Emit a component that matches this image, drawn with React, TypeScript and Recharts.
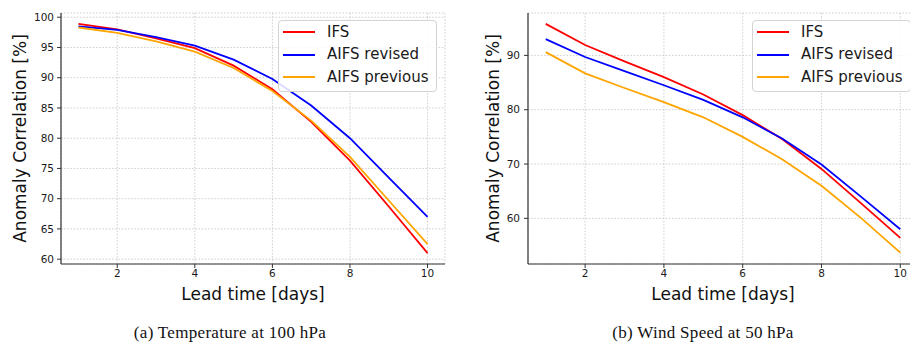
import React from 'react';
import { LineChart, Line, XAxis, YAxis, CartesianGrid, Legend } from 'recharts';

// Lead times (days) shared by both panels
const leadDays = [1, 2, 3, 4, 5, 6, 7, 8, 9, 10];
const dayTicks = [2, 4, 6, 8, 10];

// (a) Temperature at 100 hPa — anomaly correlation [%]
const tempIfs = [98.9, 98.0, 96.5, 94.9, 92.0, 88.1, 82.7, 76.3, 68.7, 61.0];
const tempRevised = [98.5, 97.9, 96.7, 95.3, 93.0, 89.8, 85.4, 80.0, 73.5, 67.0];
const tempPrevious = [98.3, 97.4, 96.0, 94.3, 91.6, 87.8, 82.9, 76.9, 69.7, 62.5];
const tempTicks = [60, 65, 70, 75, 80, 85, 90, 95, 100];

// (b) Wind speed at 50 hPa — anomaly correlation [%]
const windIfs = [95.8, 91.9, 88.9, 86.0, 82.8, 79.0, 74.6, 69.1, 62.8, 56.4];
const windRevised = [93.0, 89.7, 87.1, 84.5, 81.8, 78.6, 74.7, 69.9, 64.0, 58.0];
const windPrevious = [90.6, 86.7, 84.0, 81.4, 78.6, 75.0, 70.9, 66.0, 60.1, 53.7];
const windTicks = [60, 70, 80, 90];

const seriesKeys = ['ifs', 'revised', 'previous'];
const seriesNames = ['IFS', 'AIFS revised', 'AIFS previous'];
const seriesColors = ['#ff0000', '#0000ff', '#ffa500'];

const SANS = '"DejaVu Sans", Verdana, sans-serif';
const SERIF = '"Liberation Serif", "Times New Roman", serif';
const AXIS = '#333333';

const buildRows = (a: number[], b: number[], c: number[]) =>
  leadDays.map((day, i) => ({ day, ifs: a[i], revised: b[i], previous: c[i] }));

const tempRows = buildRows(tempIfs, tempRevised, tempPrevious);
const windRows = buildRows(windIfs, windRevised, windPrevious);

// Legend entries keep the plotting order of the series
const LegendBox = ({ payload }: any) => {
  const items = [...(payload || [])].sort(
    (a: any, b: any) => seriesNames.indexOf(a.value) - seriesNames.indexOf(b.value)
  );
  return (
    <div
      style={{
        width: 159,
        height: 72,
        boxSizing: 'border-box',
        border: '1px solid #d3d3d3',
        borderRadius: 4,
        background: 'rgba(255,255,255,0.85)',
        fontFamily: SANS,
        fontSize: 15,
        color: '#1a1a1a',
      }}
    >
      {items.map((item: any) => (
        <div key={item.value} style={{ display: 'flex', alignItems: 'center', height: 22.5 }}>
          <div style={{ marginLeft: 4, width: 32, height: 2, background: item.color }} />
          <span style={{ marginLeft: 12, lineHeight: '15px' }}>{item.value}</span>
        </div>
      ))}
    </div>
  );
};

type PanelProps = {
  left: number;
  width: number;
  rows: any[];
  yDomain: [number, number];
  yTicks: number[];
  marginLeft: number;
  marginRight: number;
  legendLeft: number;
  yTitleX: number;
  xTitleX: number;
  yTickMargin: number;
};

const Panel = (p: PanelProps) => (
  <div style={{ position: 'absolute', left: p.left, top: 0, width: p.width, height: 344 }}>
    <LineChart
      width={p.width}
      height={344}
      data={p.rows}
      margin={{ top: 13, right: p.marginRight, bottom: 50, left: p.marginLeft }}
    >
      <CartesianGrid stroke="#c4c4c4" strokeWidth={0.8} strokeDasharray="1.6 1.6" />
      <XAxis
        dataKey="day"
        type="number"
        domain={[0.55, 10.45]}
        ticks={dayTicks}
        allowDataOverflow
        height={30}
        tickSize={4}
        tickMargin={2}
        stroke={AXIS}
        axisLine={{ stroke: AXIS, strokeWidth: 1.2 }}
        tickLine={{ stroke: AXIS }}
        tick={{ fill: '#1a1a1a', fontSize: 10.5, fontFamily: SANS }}
      />
      <XAxis
        xAxisId="frameTop"
        orientation="top"
        dataKey="day"
        type="number"
        domain={[0.55, 10.45]}
        height={0}
        tick={false}
        tickLine={false}
        axisLine={{ stroke: AXIS, strokeWidth: 1.2 }}
      />
      <YAxis
        type="number"
        domain={p.yDomain}
        ticks={p.yTicks}
        allowDataOverflow
        width={50}
        tickSize={4}
        tickMargin={p.yTickMargin}
        axisLine={{ stroke: AXIS, strokeWidth: 1.2 }}
        tickLine={{ stroke: AXIS }}
        tick={{ fill: '#1a1a1a', fontSize: 10.5, fontFamily: SANS }}
      />
      <YAxis
        yAxisId="frameRight"
        orientation="right"
        type="number"
        domain={p.yDomain}
        width={0}
        tick={false}
        tickLine={false}
        axisLine={{ stroke: AXIS, strokeWidth: 1.2 }}
      />
      {seriesKeys.map((k, i) => (
        <Line
          key={k}
          dataKey={k}
          name={seriesNames[i]}
          type="linear"
          stroke={seriesColors[i]}
          strokeWidth={1.8}
          dot={false}
          activeDot={false}
          isAnimationActive={false}
        />
      ))}
      <Legend
        layout="vertical"
        align="center"
        verticalAlign="middle"
        itemSorter={null as any}
        wrapperStyle={{ top: 20, left: p.legendLeft, width: 159 }}
        content={<LegendBox />}
      />
    </LineChart>
    <svg
      width={p.width}
      height={344}
      style={{ position: 'absolute', left: 0, top: 0, pointerEvents: 'none' }}
    >
      <text
        transform={`translate(${p.yTitleX},138.5) rotate(-90)`}
        textAnchor="middle"
        dominantBaseline="central"
        fontFamily={SANS}
        fontSize={17}
        fill="#111"
      >
        Anomaly Correlation [%]
      </text>
      <text x={p.xTitleX} y={300} textAnchor="middle" fontFamily={SANS} fontSize={17} fill="#111">
        Lead time [days]
      </text>
    </svg>
  </div>
);

export default function App() {
  return (
    <div
      style={{
        position: 'absolute',
        left: 0,
        top: 0,
        width: 910,
        height: 344,
        overflow: 'hidden',
        background: '#fff',
      }}
    >
      <Panel
        left={0}
        width={455}
        rows={tempRows}
        yDomain={[59.2, 100.7]}
        yTicks={tempTicks}
        marginLeft={11}
        marginRight={10}
        legendLeft={278}
        yTitleX={19.5}
        xTitleX={253}
        yTickMargin={3}
      />
      <Panel
        left={455}
        width={475}
        rows={windRows}
        yDomain={[51.6, 97.8]}
        yTicks={windTicks}
        marginLeft={23}
        marginRight={12}
        legendLeft={297}
        yTitleX={37.5}
        xTitleX={268}
        yTickMargin={4}
      />
      <svg width={910} height={344} style={{ position: 'absolute', left: 0, top: 0, pointerEvents: 'none' }}>
        <text x={230} y={338} textAnchor="middle" fontFamily={SERIF} fontSize={17} letterSpacing={0.3} fill="#111">
          (a) Temperature at 100 hPa
        </text>
        <text x={703} y={338} textAnchor="middle" fontFamily={SERIF} fontSize={17} letterSpacing={0.3} fill="#111">
          (b) Wind Speed at 50 hPa
        </text>
      </svg>
    </div>
  );
}
